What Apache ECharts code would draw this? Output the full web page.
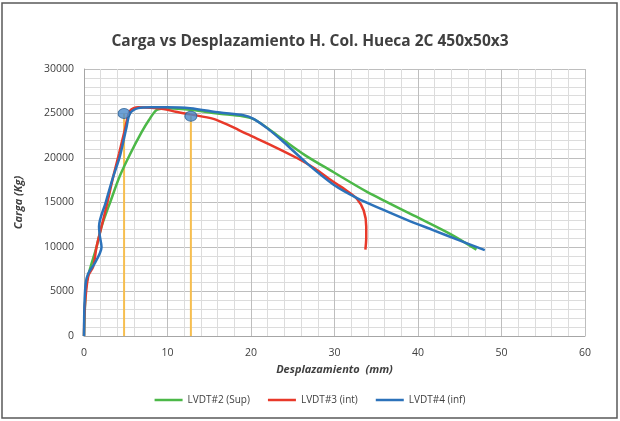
<!DOCTYPE html>
<html><head><meta charset="utf-8">
<script src="https://cdn.jsdelivr.net/npm/echarts@6/dist/echarts.min.js"></script>
<style>html,body{margin:0;padding:0;background:#fff}#c{width:620px;height:421px}</style>
</head><body><div id="c"></div>
<script>
const seriesNames = ['LVDT#2 (Sup)', 'LVDT#3 (int)', 'LVDT#4 (inf)'];
const lvdt2 = [[0,0],[0.1,3000],[0.3,6000],[0.8,7800],[1.5,10000],[2.1,12300],[3.2,15200],[4.3,18000],[5.5,20400],[6.9,22900],[7.8,24300],[8.7,25400],[10,25600],[13,25400],[16,25000],[19,24700],[20.5,24300],[23.5,22300],[26.5,20300],[29.9,18400],[33.9,16200],[39.8,13400],[44,11400],[47,9700]];
const lvdt3 = [[0,0],[0.1,3300],[0.5,6700],[1.1,7800],[1.5,10000],[2.1,12300],[2.8,15000],[3.5,17900],[4.2,20500],[4.9,23200],[5.5,25300],[6.5,25700],[8,25650],[9.5,25500],[11,25200],[12.7,24900],[15.5,24400],[17.5,23600],[19.5,22700],[22.5,21400],[25.5,20000],[27.5,18900],[29.9,17300],[31.5,16300],[32.7,15400],[33.5,14100],[33.8,12300],[33.8,11000],[33.7,9700]];
const lvdt4 = [[0,0],[0.05,3300],[0.2,5900],[0.5,7000],[1.3,8200],[1.9,9300],[2.1,10000],[1.9,11200],[1.8,12300],[2.6,15000],[3.5,17900],[4.3,20200],[5.1,23500],[5.5,25000],[6.5,25600],[8,25700],[9.9,25700],[12.7,25600],[16.3,25100],[19.1,24800],[20.3,24400],[22,23300],[23.9,21800],[26.7,19400],[29.9,17000],[32.7,15500],[35.8,14200],[38.8,13000],[41.8,11900],[44.8,10800],[48,9650]];
const refPoints = [[4.8,25000],[12.8,24700]];
const yTicks = [0,5000,10000,15000,20000,25000,30000];
const xTicks = [0,10,20,30,40,50,60];

const colors = ['#4CB848','#E8392A','#2C72BA'];
const dataSets = [lvdt2, lvdt3, lvdt4];

const series = dataSets.map((d,i)=>({
  name: seriesNames[i], type:'line', data:d, smooth:0.3, showSymbol:false, symbol:'none',
  lineStyle:{color:colors[i], width:2.5}, itemStyle:{color:colors[i]}, z:3
}));
refPoints.forEach((p)=>{
  series.push({type:'line', data:[[p[0],0],[p[0],p[1]]], showSymbol:false, symbol:'none',
    lineStyle:{color:'#F6BE4F', width:2}, z:2, silent:true});
});
series.push({type:'scatter', data:refPoints, symbol:'circle', symbolSize:[12,10],
  itemStyle:{color:'#4A8ACB', borderColor:'#2A5F94', borderWidth:1}, z:5});

const chart = echarts.init(document.getElementById('c'));
chart.setOption({
  animation:false,
  backgroundColor:'#fff',
  title:{text:'Carga vs Desplazamiento H. Col. Hueca 2C 450x50x3', left:'center', top:29,
    textStyle:{fontFamily:'"Open Sans"', fontSize:15.5, fontWeight:'bold', color:'#404040'}},
  legend:{data:seriesNames, bottom:11, left:'center', icon:'path://M0,0 L28,0 L28,2.5 L0,2.5 Z', itemWidth:28, itemHeight:3, itemGap:18,
    textStyle:{fontFamily:'"Open Sans"', fontSize:10, color:'#404040'}},
  grid:{left:84, right:35, top:69, bottom:85},
  xAxis:{type:'value', min:0, max:60, interval:10,
    name:'Desplazamiento  (mm)', nameLocation:'middle', nameGap:28,
    nameTextStyle:{fontFamily:'"Open Sans"', fontSize:11, fontWeight:'bold', fontStyle:'italic', color:'#404040'},
    axisLine:{show:true, lineStyle:{color:'#A6A6A6'}}, axisTick:{show:false},
    axisLabel:{fontFamily:'"Open Sans"', fontSize:10.5, color:'#404040', margin:12,
      formatter:(v)=> xTicks.includes(v)? String(v):''},
    splitLine:{show:true, lineStyle:{color:'#BEBEBE', width:1}},
    minorTick:{show:false, splitNumber:5},
    minorSplitLine:{show:true, lineStyle:{color:'#DCDCDC', width:1}}},
  yAxis:{type:'value', min:0, max:30000, interval:5000,
    name:'Carga (Kg)', nameLocation:'middle', nameGap:60, nameRotate:90,
    nameTextStyle:{fontFamily:'"Open Sans"', fontSize:11, fontWeight:'bold', fontStyle:'italic', color:'#404040'},
    axisLine:{show:true, lineStyle:{color:'#A6A6A6'}}, axisTick:{show:false},
    axisLabel:{fontFamily:'"Open Sans"', fontSize:10.5, color:'#404040', margin:10,
      formatter:(v)=> yTicks.includes(v)? String(v):''},
    splitLine:{show:true, lineStyle:{color:'#BEBEBE', width:1}},
    minorTick:{show:false, splitNumber:5},
    minorSplitLine:{show:true, lineStyle:{color:'#DCDCDC', width:1}}},
  graphic:[{type:'rect', shape:{x:2, y:3, width:615, height:415}, style:{fill:'none', stroke:'#595959', lineWidth:1.5}, silent:true}],
  series:series
});
</script></body></html>
